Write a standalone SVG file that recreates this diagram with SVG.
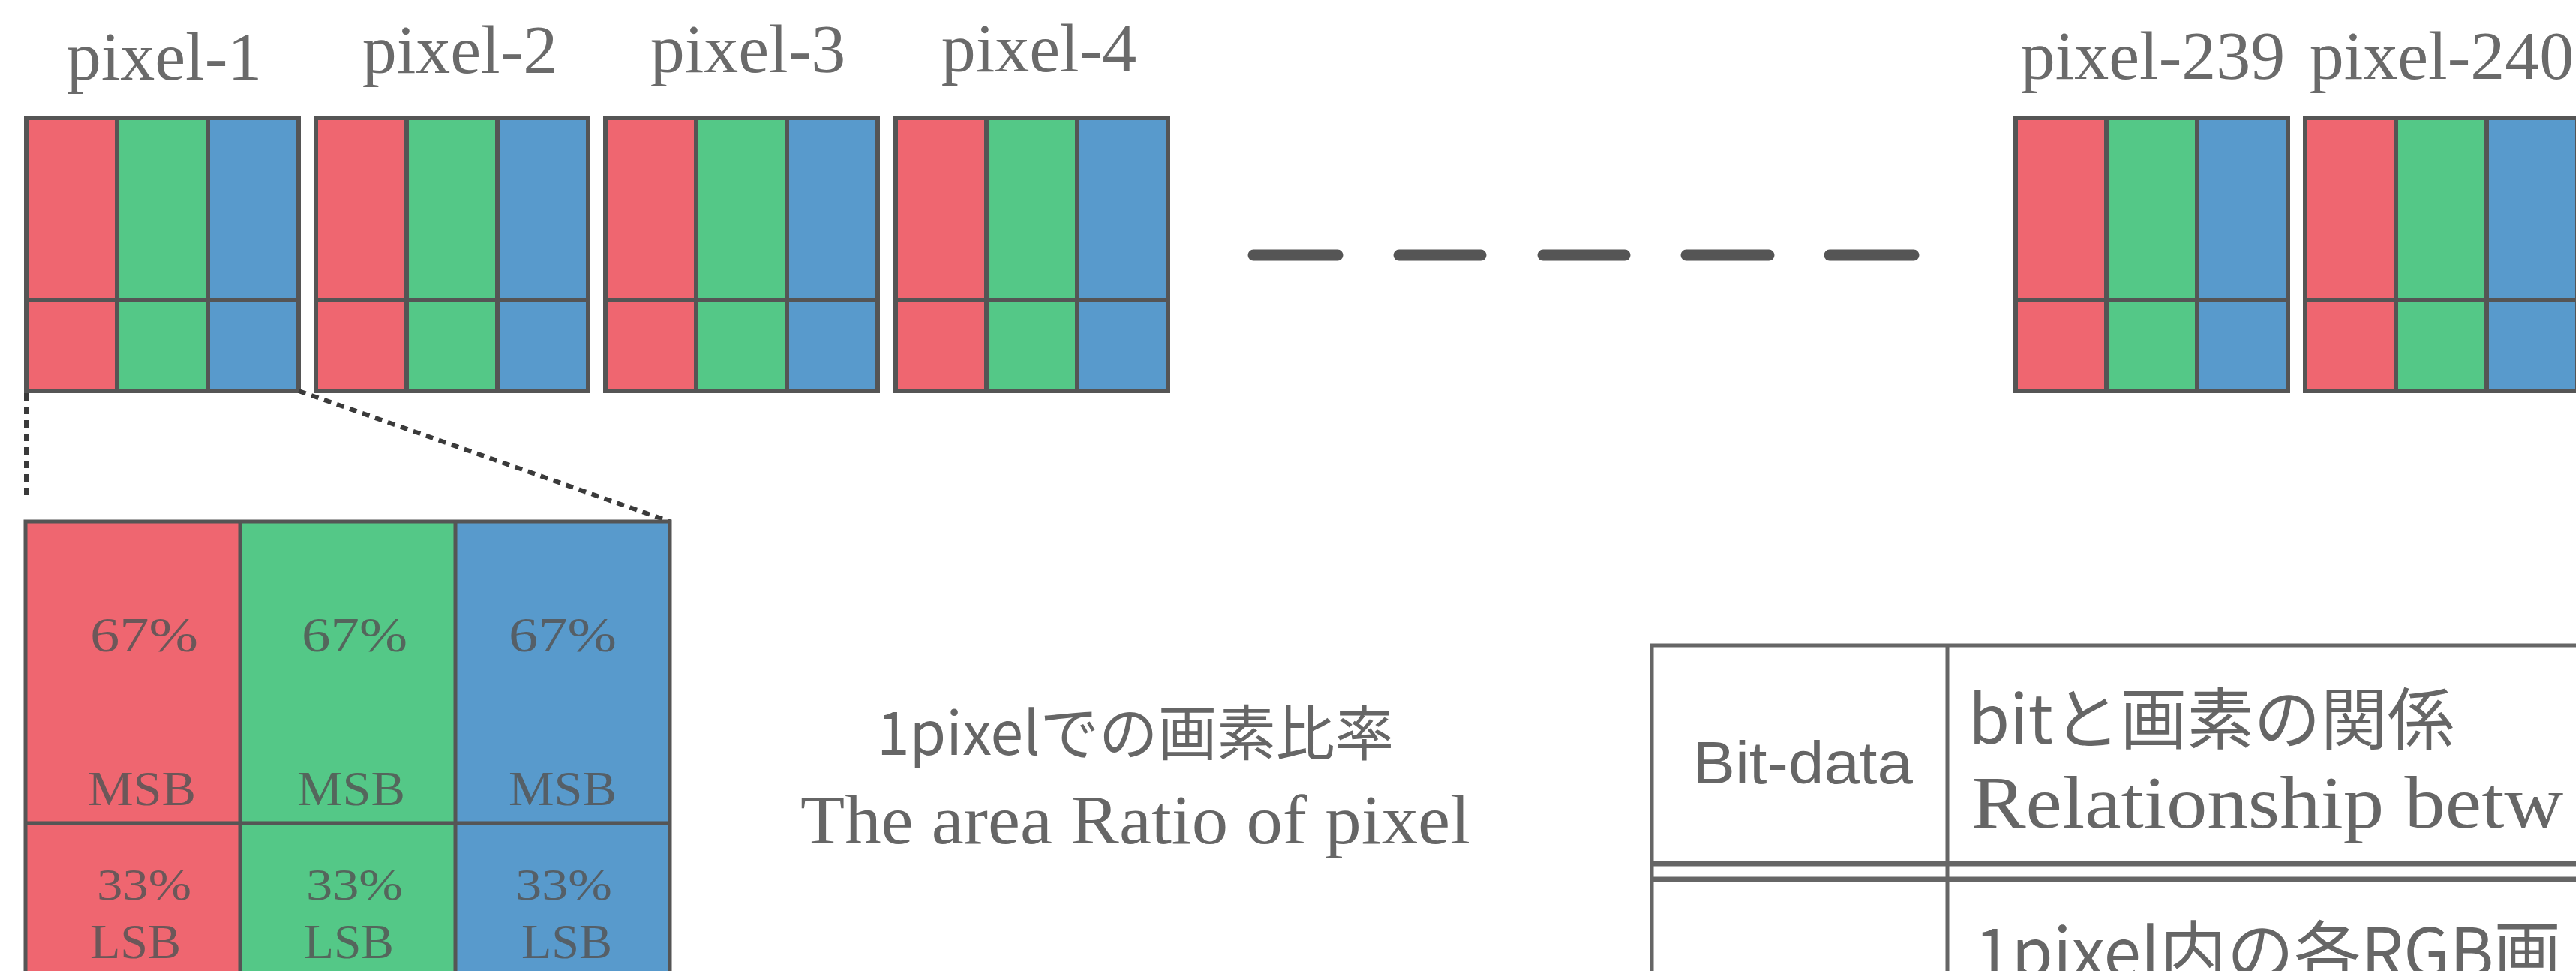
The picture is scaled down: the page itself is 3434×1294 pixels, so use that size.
<svg xmlns="http://www.w3.org/2000/svg" xmlns:xlink="http://www.w3.org/1999/xlink" width="3434" height="1294" viewBox="0 0 3434 1294">
<style>
.r{fill:#EF6670}
.g{fill:#54C887}
.b{fill:#589ACC}
.st{stroke:#555;stroke-width:6;fill:none}
.lbl{font-family:"Liberation Serif",serif;font-size:92px;fill:#6a6a6a;text-anchor:middle}
.cell{font-family:"Liberation Serif",serif;fill:#555;fill-opacity:0.85}
.tb{stroke:#666;fill:none}
.dots{stroke:#3a3a3a;stroke-width:6;fill:none;stroke-dasharray:10 8}
.dash{stroke:#555;stroke-width:15;stroke-linecap:round}
.sans{font-family:"Liberation Sans","Noto Sans CJK JP",sans-serif;fill:#666}
.cjk{font-family:"Noto Sans CJK JP",sans-serif;fill:#666}
.ser{font-family:"Liberation Serif",serif;fill:#666}
</style>
<defs>
<g id="px">
<rect class="r" x="0" y="0" width="121" height="364"/>
<rect class="g" x="121" y="0" width="121" height="364"/>
<rect class="b" x="242" y="0" width="121" height="364"/>
<rect class="st" x="0" y="0" width="363" height="364"/>
<path class="st" d="M121 0V364M242 0V364M0 243H363"/>
</g>
</defs>
<rect width="3434" height="1294" fill="#ffffff"/>

<g id="pixel-1"><use xlink:href="#px" x="35" y="157"/><text class="lbl" x="219" y="106">pixel-1</text></g>
<g id="pixel-2"><use xlink:href="#px" x="421" y="157"/><text class="lbl" x="613" y="97">pixel-2</text></g>
<g id="pixel-3"><use xlink:href="#px" x="807" y="157"/><text class="lbl" x="997" y="96">pixel-3</text></g>
<g id="pixel-4"><use xlink:href="#px" x="1194" y="157"/><text class="lbl" x="1385" y="95">pixel-4</text></g>
<g id="ellipsis">
<line class="dash" x1="1671" y1="340" x2="1783" y2="340"/>
<line class="dash" x1="1865" y1="340" x2="1974" y2="340"/>
<line class="dash" x1="2057" y1="340" x2="2166" y2="340"/>
<line class="dash" x1="2248" y1="340" x2="2358" y2="340"/>
<line class="dash" x1="2439" y1="340" x2="2551" y2="340"/>
</g>
<g id="pixel-239"><use xlink:href="#px" x="2687" y="157"/><text class="lbl" x="2870" y="105">pixel-239</text></g>
<g id="pixel-240"><use xlink:href="#px" x="3073" y="157"/><text class="lbl" x="3255" y="105">pixel-240</text></g>

<g id="connectors">
<line class="dots" x1="35" y1="524" x2="35" y2="668"/>
<line class="dots" x1="398" y1="521" x2="893" y2="695"/>
</g>

<g id="pixel-detail">
<rect class="r" x="34" y="695" width="286" height="620"/>
<rect class="g" x="320" y="695" width="287" height="620"/>
<rect class="b" x="607" y="695" width="286" height="620"/>
<rect class="st" x="34" y="695" width="859" height="620" style="stroke-width:5"/>
<path class="st" d="M320 695V1315M607 695V1315M34 1097H893" style="stroke-width:5"/>
<text class="cell" font-size="66" x="120" y="868" textLength="144" lengthAdjust="spacingAndGlyphs">67%</text>
<text class="cell" font-size="66" x="402" y="868" textLength="141" lengthAdjust="spacingAndGlyphs">67%</text>
<text class="cell" font-size="66" x="678" y="868" textLength="144" lengthAdjust="spacingAndGlyphs">67%</text>
<text class="cell" font-size="66" x="117" y="1073" textLength="144" lengthAdjust="spacingAndGlyphs">MSB</text>
<text class="cell" font-size="66" x="396" y="1073" textLength="144" lengthAdjust="spacingAndGlyphs">MSB</text>
<text class="cell" font-size="66" x="678" y="1073" textLength="144" lengthAdjust="spacingAndGlyphs">MSB</text>
<text class="cell" font-size="60" x="129" y="1199" textLength="126" lengthAdjust="spacingAndGlyphs">33%</text>
<text class="cell" font-size="60" x="408" y="1199" textLength="129" lengthAdjust="spacingAndGlyphs">33%</text>
<text class="cell" font-size="60" x="687" y="1199" textLength="129" lengthAdjust="spacingAndGlyphs">33%</text>
<text class="cell" font-size="66" x="120" y="1277" textLength="121" lengthAdjust="spacingAndGlyphs">LSB</text>
<text class="cell" font-size="66" x="405" y="1277" textLength="120" lengthAdjust="spacingAndGlyphs">LSB</text>
<text class="cell" font-size="66" x="695" y="1277" textLength="121" lengthAdjust="spacingAndGlyphs">LSB</text>
</g>

<g id="caption">
<text class="cjk" font-size="80" x="1169" y="1006" textLength="689" lengthAdjust="spacingAndGlyphs">1pixelでの画素比率</text>
<text class="ser" font-size="94" x="1067" y="1124" textLength="893" lengthAdjust="spacingAndGlyphs">The area Ratio of pixel</text>
</g>

<g id="table">
<path class="tb" style="stroke-width:5" d="M2202 858V1300M2596 858V1300M2200 860H3434"/>
<path class="tb" style="stroke-width:7" d="M2200 1151H3434M2200 1172H3434"/>
<text class="sans" font-size="79" x="2256" y="1044" textLength="294" lengthAdjust="spacingAndGlyphs">Bit-data</text>
<text class="cjk" font-size="90" x="2624" y="991" textLength="648" lengthAdjust="spacingAndGlyphs">bitと画素の関係</text>
<text class="ser" font-size="100" x="2628" y="1103" textLength="789" lengthAdjust="spacingAndGlyphs">Relationship betw</text>
<text class="cjk" font-size="90" x="2632" y="1302" textLength="782" lengthAdjust="spacingAndGlyphs">1pixel内の各RGB画</text>
</g>
</svg>
